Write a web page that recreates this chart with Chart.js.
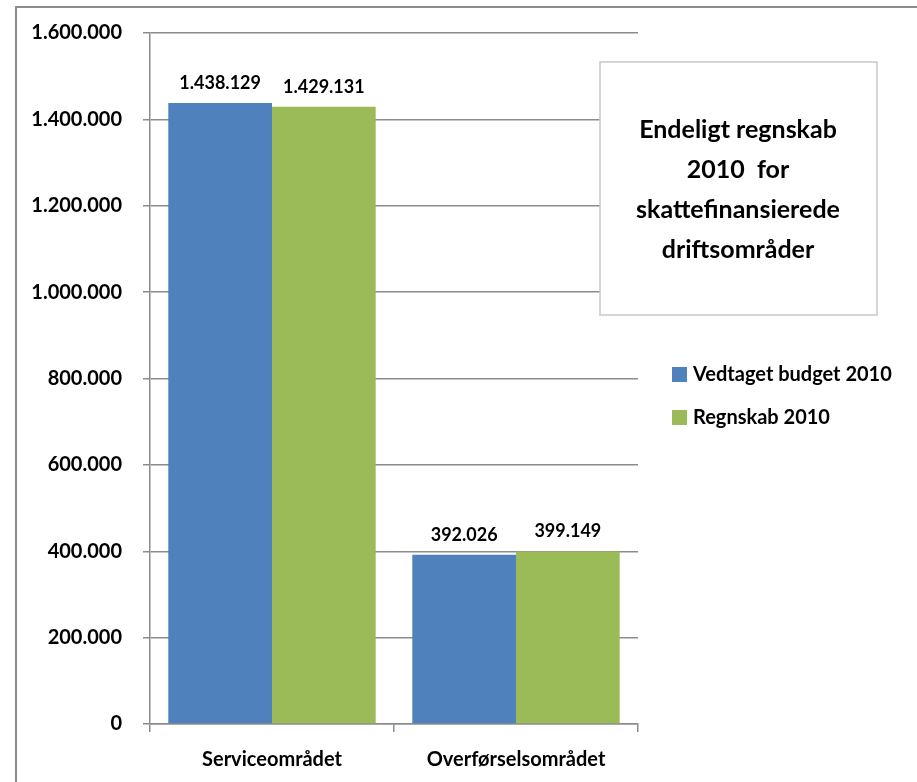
<!DOCTYPE html>
<html>
<head>
<meta charset="utf-8">
<script src="https://cdn.jsdelivr.net/npm/chart.js@4"></script>
<style>
html,body{margin:0;padding:0;background:#fff;}
#wrap{width:917px;height:782px;position:relative;}
</style>
</head>
<body>
<div id="wrap"><canvas id="c" width="917" height="782"></canvas></div>
<script>
const categories = ["Serviceområdet", "Overførselsområdet"];
const seriesNames = ["Vedtaget budget 2010", "Regnskab 2010"];
const budget2010 = [1438129, 392026];
const regnskab2010 = [1429131, 399149];
const titleLines = ["Endeligt regnskab", "2010  for", "skattefinansierede", "driftsområder"];

const FONT = "Lato, 'Noto Sans', sans-serif";
const fmt = v => String(Math.round(v)).replace(/\B(?=(\d{3})+(?!\d))/g, ".");

const extras = {
  id: "extras",
  afterDraw(chart) {
    const ctx = chart.ctx;
    ctx.save();
    // data labels
    ctx.font = "bold 18px " + FONT;
    ctx.fillStyle = "#000";
    ctx.textAlign = "center";
    ctx.textBaseline = "middle";
    chart.data.datasets.forEach((ds, di) => {
      chart.getDatasetMeta(di).data.forEach((bar, i) => {
        ctx.fillText(fmt(ds.data[i]), bar.x, bar.y - 20);
      });
    });
    // outer border
    ctx.strokeStyle = "#8c8c8c";
    ctx.lineWidth = 2;
    ctx.strokeRect(16, 7, 1000, 1000);
    // title box
    ctx.strokeStyle = "#c8c8c8";
    ctx.lineWidth = 1.5;
    ctx.fillStyle = "#fff";
    ctx.fillRect(600, 62, 277, 253);
    ctx.strokeRect(600, 62, 277, 253);
    ctx.fillStyle = "#000";
    ctx.font = "bold 25px " + FONT;
    titleLines.forEach((t, i) => ctx.fillText(t, 738, 130 + i * 40));
    // legend
    ctx.font = "bold 20px " + FONT;
    ctx.textAlign = "left";
    chart.data.datasets.forEach((ds, di) => {
      const y = 375 + di * 43;
      ctx.fillStyle = ds.backgroundColor;
      ctx.fillRect(672, y - 8, 15, 15);
      ctx.fillStyle = "#000";
      ctx.fillText(ds.label, 693, y);
    });
    ctx.restore();
  }
};

new Chart(document.getElementById("c"), {
  type: "bar",
  data: {
    labels: categories,
    datasets: [
      { label: seriesNames[0], data: budget2010, backgroundColor: "#4F81BD" },
      { label: seriesNames[1], data: regnskab2010, backgroundColor: "#9BBB59" }
    ]
  },
  options: {
    responsive: false,
    animation: false,
    devicePixelRatio: 1,
    layout: { padding: { left: 0, top: 32, right: 279, bottom: 0 } },
    datasets: { bar: { categoryPercentage: 0.85, barPercentage: 1.0 } },
    plugins: { legend: { display: false }, tooltip: { enabled: false }, title: { display: false } },
    scales: {
      x: {
        grid: { offset: true, drawOnChartArea: false, drawTicks: true, tickLength: 8, color: "#8c8c8c", lineWidth: 1.5 },
        border: { display: true, color: "#8c8c8c", width: 1.5 },
        ticks: { color: "#000", font: { family: FONT, size: 20, weight: "bold" }, padding: 16 },
        afterFit(s) { s.height = 58; }
      },
      y: {
        min: 0, max: 1600000,
        ticks: { stepSize: 200000, color: "#000", font: { family: FONT, size: 20, weight: "bold" }, padding: 21, callback: v => fmt(v) },
        grid: { color: "#8c8c8c", lineWidth: 1.5, tickLength: 7 },
        border: { display: true, color: "#8c8c8c", width: 1.5 },
        afterFit(s) { s.width = 150; }
      }
    }
  },
  plugins: [extras]
});
</script>
</body>
</html>
